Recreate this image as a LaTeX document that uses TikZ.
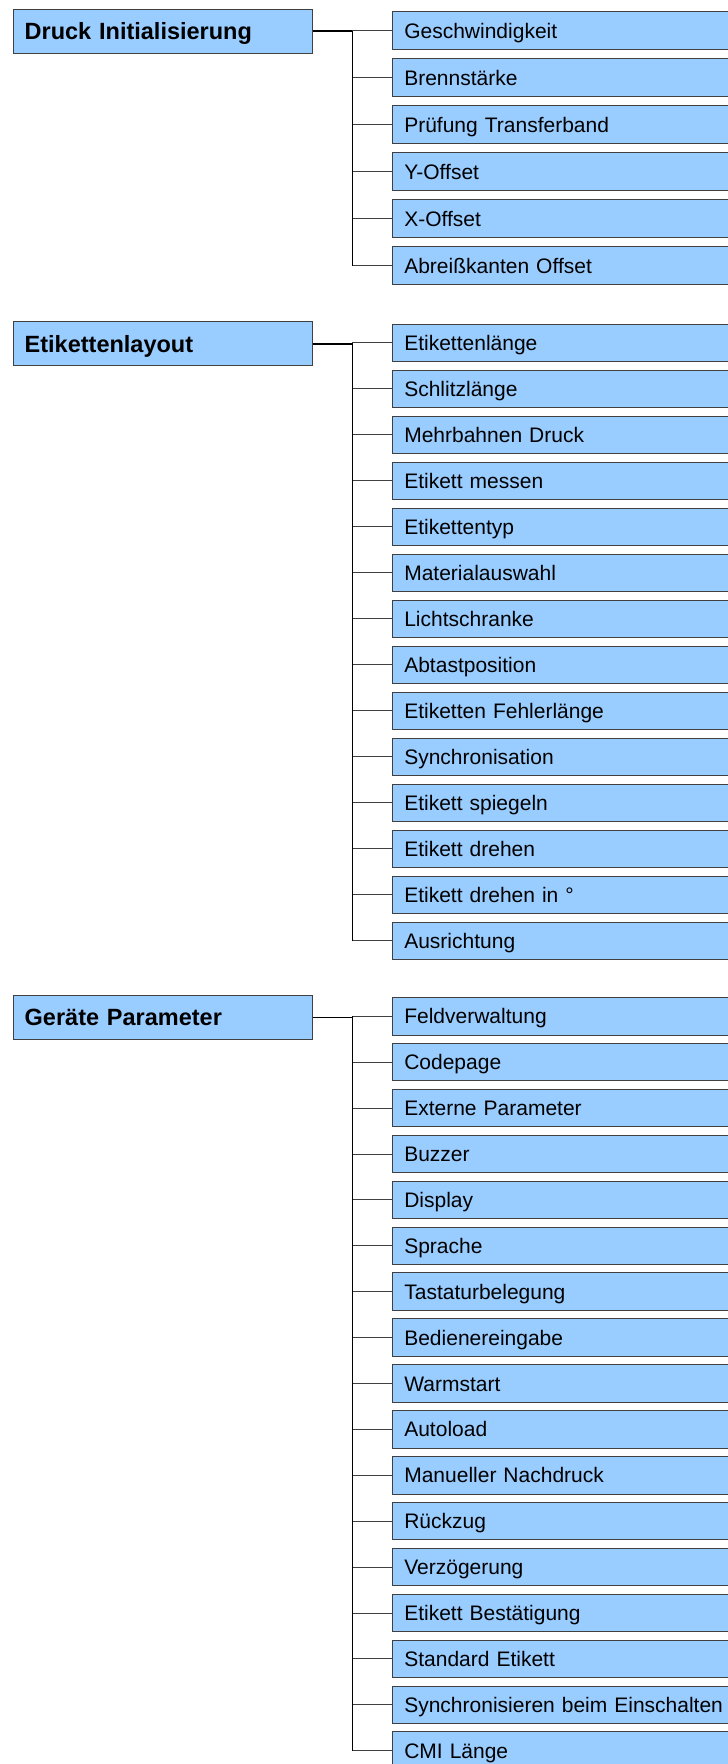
\documentclass[tikz,border=0pt]{standalone}
\usepackage{fontspec}
\setmainfont{Liberation Sans}
\definecolor{menublue}{HTML}{99CCFF}
\definecolor{menuline}{HTML}{404040}

\begin{document}
\begin{tikzpicture}[x=1pt,y=-1pt,
  menu/.style={draw=menuline,fill=menublue,line width=1pt,anchor=west,inner xsep=11.5pt,align=left,text depth=0pt},
  head/.style={menu,minimum height=44pt,text width=276pt,text height=16.8pt,font=\bfseries\fontsize{23.5}{28}\selectfont},
  item/.style={menu,minimum height=37.5pt,text width=340pt,text height=15pt,font=\fontsize{21}{25}\selectfont},
  trunk/.style={draw=black,line width=1.3pt},
  stem/.style={draw=black,line width=1.8pt},
  twig/.style={draw=black!75,line width=1pt}]
\useasboundingbox (0,0) rectangle (728,1764);

% Druck Initialisierung
\node[head] (druck) at (12.7,31.2) {Druck Initialisierung};
\coordinate (druck-t) at (352.4,31.2);
\foreach \txt [count=\i from 0] in %
{Geschwindigkeit,Brennstärke,Prüfung Transferband,Y-Offset,X-Offset,Abreißkanten Offset} {
   \node[item] (druck-\i) at (392.3,30.5+47*\i) {\txt};
   \draw[twig] (druck-\i.west) -- (druck-\i.west -| druck-t);
}
\draw[stem] (druck.east) -- (druck-t);
\draw[trunk] (druck-0.west -| druck-t) -- (druck-5.west -| druck-t);

% Etikettenlayout
\node[head] (layout) at (12.7,343.8) {Etikettenlayout};
\coordinate (layout-t) at (352.4,343.8);
\foreach \txt [count=\i from 0] in %
{Etikettenlänge,Schlitzlänge,Mehrbahnen Druck,Etikett messen,Etikettentyp,Materialauswahl,Lichtschranke,%
Abtastposition,Etiketten Fehlerlänge,Synchronisation,Etikett spiegeln,Etikett drehen,Etikett drehen in °,Ausrichtung} {
   \node[item] (layout-\i) at (392.3,342.8+46*\i) {\txt};
   \draw[twig] (layout-\i.west) -- (layout-\i.west -| layout-t);
}
\draw[stem] (layout.east) -- (layout-t);
\draw[trunk] (layout-0.west -| layout-t) -- (layout-13.west -| layout-t);

% Geraete Parameter
\node[head] (geraet) at (12.7,1017.5) {Geräte Parameter};
\coordinate (geraet-t) at (352.4,1017.5);
\foreach \txt [count=\i from 0] in %
{Feldverwaltung,Codepage,Externe Parameter,Buzzer,Display,Sprache,Tastaturbelegung,Bedienereingabe,%
Warmstart,Autoload,Manueller Nachdruck,Rückzug,Verzögerung,Etikett Bestätigung,Standard Etikett,%
Synchronisieren beim Einschalten,CMI Länge} {
   \node[item] (geraet-\i) at (392.3,1016.3+45.9*\i) {\txt};
   \draw[twig] (geraet-\i.west) -- (geraet-\i.west -| geraet-t);
}
\draw[stem] (geraet.east) -- (geraet-t);
\draw[trunk] (geraet-0.west -| geraet-t) -- (geraet-16.west -| geraet-t);
\end{tikzpicture}
\end{document}
